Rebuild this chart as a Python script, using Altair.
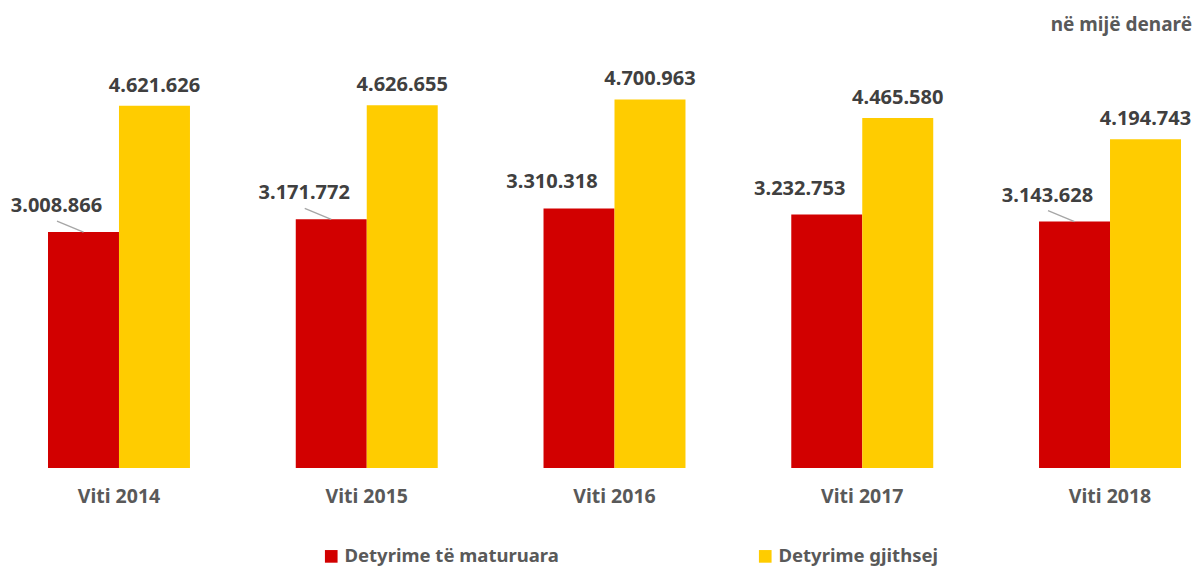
import altair as alt
import pandas as pd

# ---- data ----
years = ["Viti 2014", "Viti 2015", "Viti 2016", "Viti 2017", "Viti 2018"]
matured = [3008866, 3171772, 3310318, 3232753, 3143628]
total = [4621626, 4626655, 4700963, 4465580, 4194743]
series = ["Detyrime të maturuara", "Detyrime gjithsej"]
leader_years = ["Viti 2014", "Viti 2015", "Viti 2018"]
unit_label = "në mijë denarë"

RED = "#D20000"
YELLOW = "#FFCC00"
LABEL_C = "#404040"
AXIS_C = "#595959"
FONT = "Noto Sans"


def fmt(v):
    return f"{v:,}".replace(",", ".")


long = pd.DataFrame({
    "year": years * 2,
    "series": [series[0]] * len(years) + [series[1]] * len(years),
    "value": matured + total,
})
wide = pd.DataFrame({
    "year": years,
    "matured": matured,
    "total": total,
    "ml": [fmt(v) for v in matured],
    "tl": [fmt(v) for v in total],
})

x_main = alt.X(
    "year:N", sort=years,
    scale=alt.Scale(paddingInner=0.427, paddingOuter=0),
    axis=alt.Axis(title=None, labelAngle=0, ticks=False, domain=False,
                  labelPadding=19, labelFontSize=19.5, labelFontWeight="bold",
                  labelColor=AXIS_C, labelFont=FONT),
)

bars = alt.Chart(long).mark_bar().encode(
    x=x_main,
    xOffset=alt.XOffset("series:N", sort=series,
                        scale=alt.Scale(paddingInner=0, paddingOuter=0)),
    y=alt.Y("value:Q", scale=alt.Scale(domain=[0, 5000000], nice=False), axis=None),
    color=alt.Color(
        "series:N", sort=series,
        scale=alt.Scale(domain=series, range=[RED, YELLOW]),
        legend=alt.Legend(title=None, orient="none", legendX=274, legendY=471,
                          direction="horizontal", symbolType="square",
                          symbolSize=160, symbolStrokeWidth=0, symbolOpacity=1,
                          labelFontSize=18.5, labelFontWeight="bold",
                          labelColor=AXIS_C, labelFont=FONT, columnPadding=197,
                          labelLimit=400, labelOffset=4),
    ),
)

xr = alt.X("year:N", sort=years, bandPosition=0.25)
xy = alt.X("year:N", sort=years, bandPosition=0.75)

leaders = alt.Chart(wide).transform_filter(
    alt.FieldOneOfPredicate(field="year", oneOf=leader_years)
).mark_rule(color="#A6A6A6", strokeWidth=1.3, x2Offset=-62, y2Offset=-11).encode(
    x=xr,
    x2=alt.X2("year"),
    y=alt.Y("matured:Q"),
    y2=alt.Y2("matured"),
)

red_labels = alt.Chart(wide).mark_text(
    font=FONT, fontSize=20, fontWeight="bold", color=LABEL_C,
    align="center", baseline="alphabetic", dx=-27, dy=-20,
).encode(x=xr, y=alt.Y("matured:Q"), text="ml:N")

yellow_labels = alt.Chart(wide).mark_text(
    font=FONT, fontSize=20, fontWeight="bold", color=LABEL_C,
    align="center", baseline="alphabetic", dy=-14,
).encode(x=xy, y=alt.Y("total:Q"), text="tl:N")

unit = alt.Chart(pd.DataFrame({"t": [unit_label]})).mark_text(
    font=FONT, fontSize=19, fontWeight="bold", color=AXIS_C,
    align="right", baseline="middle",
).encode(x=alt.value(1144), y=alt.value(-51), text="t:N")

chart = alt.layer(bars, leaders, red_labels, yellow_labels, unit).properties(
    width=1133, height=392,
    padding={"left": 40, "top": 68, "right": 13, "bottom": 103},
    autosize=alt.AutoSizeParams(type="none"),
).configure_view(stroke=None)

chart.save("out.html", embed_options={"renderer": "svg", "actions": False})
